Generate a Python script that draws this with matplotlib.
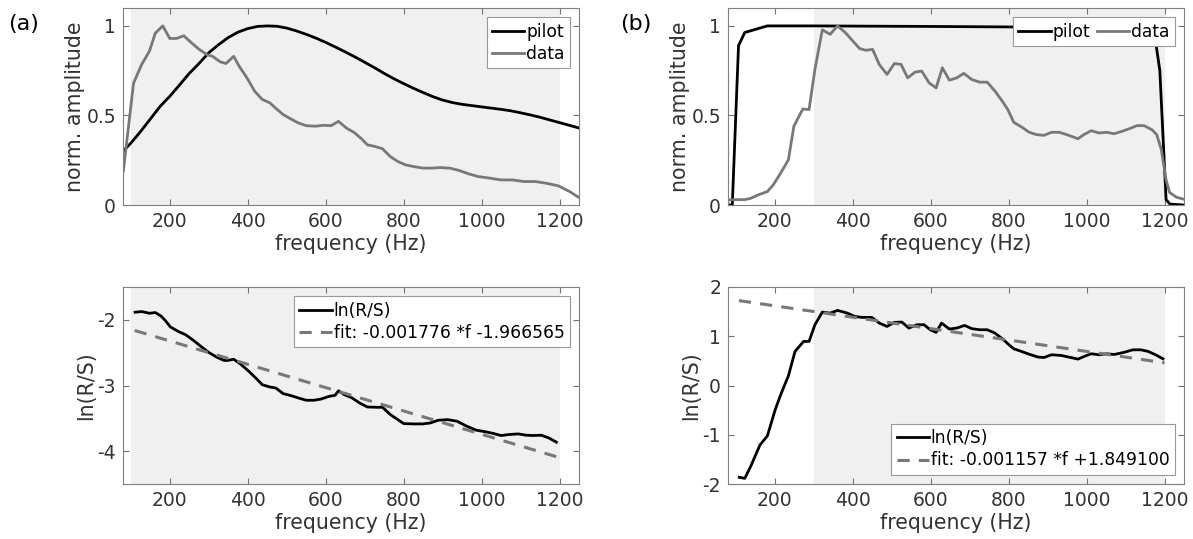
import matplotlib.pyplot as plt

plt.rcParams['font.family'] = 'DejaVu Sans'

# ---- panel (a), top: normalised spectra ----
pilot_a_f = [80, 100, 125, 150, 175, 200, 225, 250, 275, 300, 325, 350, 375, 400, 425,
             450, 475, 500, 525, 550, 575, 600, 625, 650, 675, 700, 725, 750, 775, 800,
             825, 850, 875, 900, 925, 950, 975, 1000, 1025, 1050, 1075, 1100, 1125, 1150,
             1175, 1200, 1225, 1250]
pilot_a = [0.30, 0.345, 0.41, 0.48, 0.55, 0.607, 0.67, 0.735, 0.79, 0.85, 0.895, 0.935,
           0.965, 0.985, 0.997, 1.0, 0.998, 0.988, 0.972, 0.953, 0.932, 0.908, 0.882,
           0.855, 0.827, 0.797, 0.767, 0.735, 0.705, 0.678, 0.652, 0.628, 0.605, 0.586,
           0.572, 0.562, 0.555, 0.548, 0.541, 0.534, 0.526, 0.515, 0.503, 0.49, 0.475,
           0.46, 0.445, 0.43]
data_a_f = [81, 107, 128, 148, 163, 182, 200, 217, 236, 256, 275, 295, 310, 329, 344, 364,
            378, 398, 418, 437, 457, 472, 491, 511, 530, 550, 574, 594, 614, 633, 653, 673,
            692, 707, 726, 746, 766, 785, 805, 825, 849, 874, 893, 918, 942, 967, 991, 1021,
            1050, 1079, 1109, 1138, 1167, 1197, 1226, 1249]
data_a = [0.19, 0.68, 0.785, 0.86, 0.96, 1.0, 0.93, 0.93, 0.945, 0.905, 0.87, 0.84, 0.83,
          0.80, 0.79, 0.83, 0.775, 0.71, 0.635, 0.59, 0.57, 0.54, 0.505, 0.48, 0.458,
          0.443, 0.44, 0.445, 0.443, 0.467, 0.43, 0.405, 0.37, 0.336, 0.327, 0.314, 0.27,
          0.243, 0.224, 0.215, 0.206, 0.206, 0.209, 0.206, 0.193, 0.174, 0.159, 0.15, 0.14,
          0.14, 0.131, 0.131, 0.121, 0.107, 0.075, 0.043]

# ---- panel (b), top ----
pilot_b_f = [80, 91, 107, 123, 157, 181, 300, 600, 900, 1100, 1170, 1178, 1188, 1204, 1214, 1250]
pilot_b = [0.0, 0.0, 0.89, 0.963, 0.985, 1.0, 1.0, 0.997, 0.993, 0.99, 0.97, 0.9, 0.75,
           0.03, 0.005, 0.0]
data_b_f = [79, 94, 123, 138, 157, 181, 196, 215, 235, 249, 272, 288, 303, 322, 342, 361,
            381, 400, 418, 434, 451, 468, 488, 507, 524, 541, 560, 577, 596, 614, 630, 648,
            667, 685, 706, 726, 745, 765, 784, 798, 813, 833, 852, 871, 891, 910, 930, 949,
            978, 993, 1012, 1032, 1051, 1071, 1090, 1110, 1129, 1148, 1168, 1180, 1192, 1204,
            1213, 1231, 1250]
data_b = [0.028, 0.03, 0.03, 0.037, 0.056, 0.075, 0.112, 0.178, 0.252, 0.44, 0.536, 0.533,
          0.757, 0.978, 0.953, 1.0, 0.963, 0.916, 0.873, 0.864, 0.869, 0.785, 0.729, 0.79,
          0.785, 0.71, 0.742, 0.748, 0.682, 0.654, 0.766, 0.697, 0.71, 0.735, 0.70, 0.686,
          0.686, 0.636, 0.579, 0.533, 0.462, 0.436, 0.407, 0.393, 0.389, 0.406, 0.406, 0.393,
          0.37, 0.393, 0.415, 0.402, 0.406, 0.398, 0.411, 0.426, 0.443, 0.443, 0.42, 0.393,
          0.308, 0.14, 0.07, 0.043, 0.032]

# ---- panel (a), bottom: ln(R/S) ----
lnrs_a_f = [111, 128, 148, 163, 177, 187, 202, 222, 241, 261, 280, 300, 320, 339, 349, 364,
            383, 403, 423, 437, 457, 472, 491, 511, 530, 550, 570, 589, 609, 624, 633, 648,
            668, 687, 707, 731, 746, 766, 785, 800, 825, 849, 869, 888, 913, 937, 962, 986,
            1011, 1030, 1050, 1070, 1094, 1114, 1133, 1153, 1172, 1192]
lnrs_a = [-1.884, -1.874, -1.90, -1.889, -1.94, -2.0, -2.11, -2.177, -2.228, -2.314, -2.405,
          -2.496, -2.567, -2.618, -2.618, -2.60, -2.68, -2.785, -2.90, -2.987, -3.023, -3.038,
          -3.124, -3.154, -3.19, -3.225, -3.225, -3.205, -3.165, -3.15, -3.08, -3.14, -3.19,
          -3.266, -3.327, -3.332, -3.332, -3.443, -3.519, -3.58, -3.585, -3.585, -3.57, -3.53,
          -3.52, -3.544, -3.62, -3.68, -3.706, -3.73, -3.762, -3.747, -3.737, -3.757, -3.762,
          -3.757, -3.797, -3.863]
fit_a_f = [110, 1200]
fit_a = [-2.162, -4.098]

# ---- panel (b), bottom ----
lnrs_b_f = [109, 123, 138, 162, 181, 201, 215, 235, 252, 274, 288, 303, 322, 342, 361, 386,
            405, 424, 449, 468, 488, 507, 526, 544, 565, 583, 599, 614, 628, 648, 667, 687,
            706, 726, 745, 765, 784, 799, 813, 833, 852, 876, 891, 910, 935, 959, 978, 998,
            1012, 1032, 1051, 1071, 1095, 1119, 1139, 1158, 1177, 1196]
lnrs_b = [-1.864, -1.885, -1.647, -1.207, -1.024, -0.495, -0.19, 0.197, 0.692, 0.895, 0.895,
          1.234, 1.49, 1.47, 1.525, 1.47, 1.403, 1.383, 1.383, 1.268, 1.20, 1.281, 1.288,
          1.166, 1.234, 1.234, 1.132, 1.078, 1.268, 1.146, 1.166, 1.22, 1.153, 1.132, 1.132,
          1.064, 0.949, 0.841, 0.746, 0.692, 0.637, 0.576, 0.569, 0.624, 0.61, 0.569, 0.536,
          0.603, 0.644, 0.624, 0.644, 0.63, 0.671, 0.725, 0.725, 0.692, 0.624, 0.542]
fit_b_f = [108, 1200]
fit_b = [1.724, 0.461]

xticks = [200, 400, 600, 800, 1000, 1200]
band_a = (100, 1200)
band_b = (300, 1200)

BLACK = 'black'
GRAY = '0.47'
TXT = '0.2'

fig = plt.figure(figsize=(11.93, 5.39), dpi=100)
W, H = 1193, 539


def make_ax(left, top, right, bottom):
    return fig.add_axes([left / W, 1 - bottom / H, (right - left) / W, (bottom - top) / H])


def style(ax, band, ylim, yticks, yticklabels, ylabel):
    ax.axvspan(*band, color='0.94', lw=0, zorder=0)
    ax.set_xlim(80, 1250)
    ax.set_ylim(*ylim)
    ax.set_xticks(xticks)
    ax.set_yticks(yticks)
    ax.set_yticklabels(yticklabels)
    ax.tick_params(direction='in', length=4, width=0.8, color='0.45', labelcolor=TXT,
                   labelsize=13.5, top=True, right=True, pad=5)
    for sp in ax.spines.values():
        sp.set_color('0.5')
        sp.set_linewidth(0.8)
    ax.set_xlabel('frequency (Hz)', fontsize=14.8, color=TXT, labelpad=2)
    ax.set_ylabel(ylabel, fontsize=14.8, color=TXT, labelpad=1)


leg_kw = dict(fontsize=12.3, fancybox=False, framealpha=1, edgecolor='0.6',
              handlelength=1.9, handletextpad=0.1, borderpad=0.3, labelspacing=0.25,
              borderaxespad=0.55)

# top left
ax1 = make_ax(123, 8, 579, 205)
ax1.plot(pilot_a_f, pilot_a, color=BLACK, lw=2, label='pilot')
ax1.plot(data_a_f, data_a, color=GRAY, lw=2, label='data')
style(ax1, band_a, (0, 1.1), [0, 0.5, 1], ['0', '0.5', '1'], 'norm. amplitude')
ax1.legend(loc='upper right', **leg_kw).get_frame().set_linewidth(0.8)

# top right
ax2 = make_ax(728, 8, 1184, 205)
ax2.plot(pilot_b_f, pilot_b, color=BLACK, lw=2, label='pilot')
ax2.plot(data_b_f, data_b, color=GRAY, lw=2, label='data')
style(ax2, band_b, (0, 1.1), [0, 0.5, 1], ['0', '0.5', '1'], 'norm. amplitude')
ax2.legend(loc='upper right', ncol=2, columnspacing=0.4, **leg_kw).get_frame().set_linewidth(0.8)

# bottom left
ax3 = make_ax(123, 287, 579, 484)
ax3.plot(lnrs_a_f, lnrs_a, color=BLACK, lw=2, label='ln(R/S)')
ax3.plot(fit_a_f, fit_a, color=GRAY, lw=2.2, ls=(0, (4, 3)), label='fit: -0.001776 *f -1.966565')
style(ax3, band_a, (-4.5, -1.5), [-4, -3, -2], ['-4', '-3', '-2'], 'ln(R/S)')
ax3.legend(loc='upper right', **leg_kw).get_frame().set_linewidth(0.8)

# bottom right
ax4 = make_ax(728, 287, 1184, 484)
ax4.plot(lnrs_b_f, lnrs_b, color=BLACK, lw=2, label='ln(R/S)')
ax4.plot(fit_b_f, fit_b, color=GRAY, lw=2.2, ls=(0, (4, 3)), label='fit: -0.001157 *f +1.849100')
style(ax4, band_b, (-2, 2), [-2, -1, 0, 1, 2], ['-2', '-1', '0', '1', '2'], 'ln(R/S)')
ax4.legend(loc='lower right', **leg_kw).get_frame().set_linewidth(0.8)

fig.text(8 / W, 1 - 24 / H, '(a)', fontsize=16, va='center', ha='left', color=BLACK)
fig.text(620 / W, 1 - 24 / H, '(b)', fontsize=16, va='center', ha='left', color=BLACK)

fig.savefig('out.png', dpi=100)
